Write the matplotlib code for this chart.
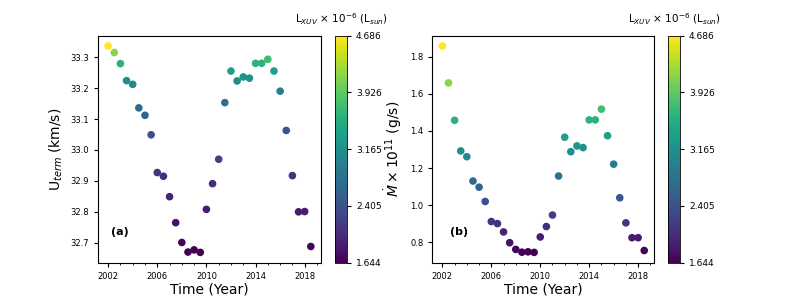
import matplotlib
matplotlib.use("Agg")
import matplotlib.pyplot as plt
import numpy as np
from matplotlib.ticker import MultipleLocator

_TICK_SIZE = 6
_CB_TICK_SIZE = 6.5
_LABEL_SIZE = 10
_CB_TITLE_SIZE = 7.5
_MARKER_SIZE = 20

# Observation times (years)
years = [2002.0, 2002.5, 2003.0, 2003.5, 2004.0, 2004.5, 2005.0, 2005.5,
         2006.0, 2006.5, 2007.0, 2007.5, 2008.0, 2008.5, 2009.0, 2009.5,
         2010.0, 2010.5, 2011.0, 2011.5, 2012.0, 2012.5, 2013.0, 2013.5,
         2014.0, 2014.5, 2015.0, 2015.5, 2016.0, 2016.5, 2017.0, 2017.5,
         2018.0, 2018.5]

# Terminal velocity (km/s)
u_term = [33.336, 33.315, 33.279, 33.224, 33.212, 33.136, 33.112, 33.049,
          32.927, 32.915, 32.849, 32.765, 32.701, 32.670, 32.677, 32.669,
          32.808, 32.891, 32.970, 33.153, 33.255, 33.223, 33.236, 33.232,
          33.280, 33.280, 33.293, 33.255, 33.190, 33.063, 32.917, 32.800,
          32.801, 32.688]

# Mass loss rate (x 1e11 g/s)
mdot = [1.857, 1.658, 1.457, 1.292, 1.261, 1.130, 1.097, 1.020,
        0.912, 0.901, 0.856, 0.798, 0.762, 0.747, 0.749, 0.746,
        0.829, 0.885, 0.947, 1.157, 1.366, 1.288, 1.319, 1.310,
        1.459, 1.459, 1.517, 1.374, 1.221, 1.040, 0.905, 0.825,
        0.825, 0.756]

# XUV luminosity (x 1e-6 L_sun)
l_xuv = [4.686, 4.141, 3.591, 3.139, 3.054, 2.695, 2.605, 2.394,
         2.099, 2.068, 1.945, 1.786, 1.688, 1.647, 1.652, 1.644,
         1.871, 2.025, 2.194, 2.769, 3.342, 3.128, 3.213, 3.188,
         3.596, 3.596, 3.755, 3.363, 2.945, 2.449, 2.079, 1.860,
         1.860, 1.671]

cbar_ticks = [1.644, 2.405, 3.165, 3.926, 4.686]
cbar_ticklabels = ["1.644", "2.405", "3.165", "3.926", "4.686"]
x_ticks = [2002, 2006, 2010, 2014, 2018]


def _panel(fig, rect, cb_rect, y, ylabel, tag, tag_x, ymajor):
    ax = fig.add_axes(rect)
    sc = ax.scatter(years, y, c=l_xuv, cmap="viridis", s=_MARKER_SIZE,
                    vmin=min(cbar_ticks), vmax=max(cbar_ticks))
    ax.set_xticks(x_ticks)
    ax.xaxis.set_minor_locator(MultipleLocator(1))
    ax.yaxis.set_major_locator(MultipleLocator(ymajor))
    ax.tick_params(labelsize=_TICK_SIZE, length=3)
    ax.tick_params(which="minor", length=1.5)
    ax.set_xlabel("Time (Year)", fontsize=_LABEL_SIZE, labelpad=1)
    ax.set_ylabel(ylabel, fontsize=_LABEL_SIZE)
    ax.text(tag_x, 0.135, tag, transform=ax.transAxes, fontsize=8,
            fontweight="bold", ha="left", va="center")

    cax = fig.add_axes(cb_rect)
    cb = fig.colorbar(sc, cax=cax)
    cb.set_ticks(cbar_ticks)
    cb.set_ticklabels(cbar_ticklabels)
    cb.ax.tick_params(labelsize=_CB_TICK_SIZE, length=3)
    cb.outline.set_linewidth(0.6)
    cb.ax.set_title(r"L$_{XUV}$ $\times$ 10$^{-6}$ (L$_{sun}$)",
                    fontsize=_CB_TITLE_SIZE, pad=9)
    return ax


fig = plt.figure(figsize=(7.89, 2.96), dpi=100)

_panel(fig, [0.1242, 0.1125, 0.2826, 0.767], [0.4246, 0.1125, 0.0152, 0.767],
       u_term, r"U$_{term}$ (km/s)", "(a)", 0.057, 0.1)
_panel(fig, [0.5479, 0.1125, 0.2814, 0.767], [0.8466, 0.1125, 0.0152, 0.767],
       mdot, r"$\dot{M} \times 10^{11}$ (g/s)", "(b)", 0.08, 0.2)

fig.savefig("out.png", dpi=100)
